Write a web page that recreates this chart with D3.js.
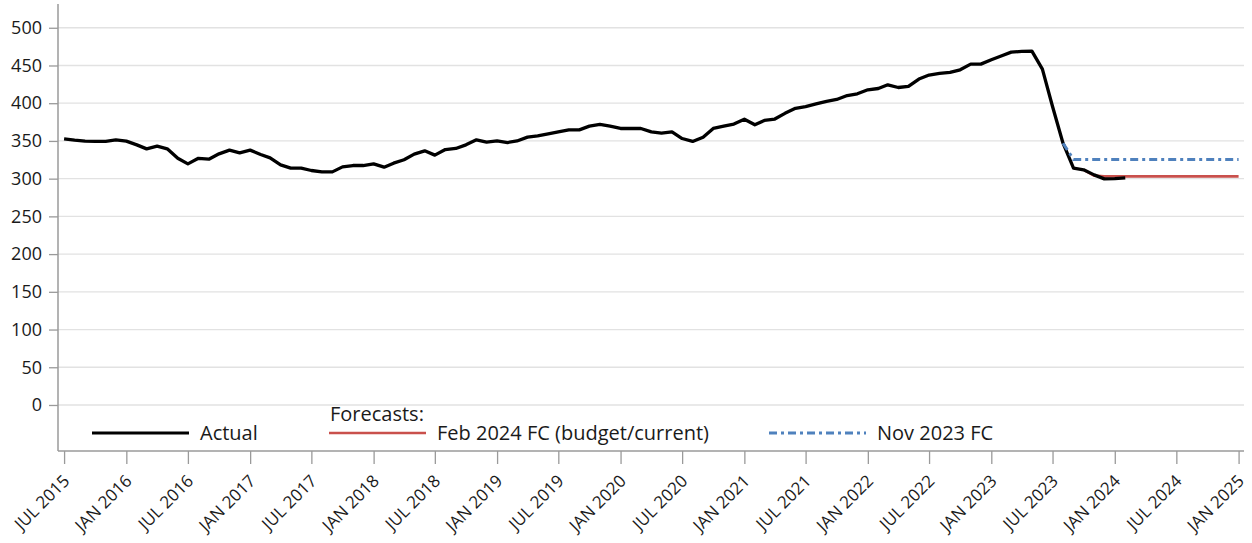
<!DOCTYPE html>
<html>
<head>
<meta charset="utf-8">
<script src="https://cdn.jsdelivr.net/npm/d3@7"></script>
<style>
  html, body { margin: 0; padding: 0; background: #fff; }
  svg text { font-family: "Open Sans", "Noto Sans", sans-serif; fill: #1a1a1a; }
</style>
</head>
<body>
<svg id="chart" width="1252" height="543"></svg>
<script>
// Monthly actuals, starting July 2015
const actualStart = "2015-07";
const actualValues = [
  352.8, 351, 349.7, 349.5, 349.5, 351.3, 349.7, 344.8, 339.5, 343, 339.5, 327,
  319.6, 327, 325.8, 332.9, 337.8, 334.2, 337.8, 332, 327.6, 318.3, 313.9, 314,
  310.8, 309, 309, 315.6, 317.4, 317.4, 319.6, 315.2, 320.5, 325, 332.5, 336.9,
  331.2, 338.6, 340, 344.8, 351.5, 348.4, 350, 347.9, 350, 355, 356.8, 359.4,
  362, 364.7, 364.7, 369.6, 371.8, 369.6, 366.5, 366.5, 366.5, 362, 360.3, 362,
  353.2, 349.3, 355, 366.5, 369.6, 372.3, 378.8, 371.4, 377.1, 379, 386.6, 393.2,
  395.4, 399, 402.5, 405, 410.2, 412.5, 417.8, 419.5, 424.4, 420.8, 422.2, 432,
  437.3, 439.4, 440.8, 444.3, 451.8, 451.8, 457.6, 462.9, 467.7, 468.6, 469, 445.2,
  395.6, 347, 313.9, 311.7, 305, 299.7, 300, 301
];

// Feb 2024 forecast (budget/current), starting October 2023
const feb24Start = "2023-10";
const feb24Values = [311.7, 304, 303, 303, 303, 303, 303, 303, 303, 303, 303, 303, 303, 303, 303, 303];

// Nov 2023 forecast, starting August 2023
const nov23Start = "2023-08";
const nov23Values = [347, 325.5, 325.5, 325.5, 325.5, 325.5, 325.5, 325.5, 325.5, 325.5,
                     325.5, 325.5, 325.5, 325.5, 325.5, 325.5, 325.5, 325.5];

const yTicks = [0, 50, 100, 150, 200, 250, 300, 350, 400, 450, 500];
const legendActual = "Actual";
const legendHeader = "Forecasts:";
const legendFeb = "Feb 2024 FC (budget/current)";
const legendNov = "Nov 2023 FC";

const parseMonth = d3.timeParse("%Y-%m");
function toSeries(start, values) {
  const s = parseMonth(start);
  return values.map((v, i) => ({ date: d3.timeMonth.offset(s, i), value: v }));
}
const actual = toSeries(actualStart, actualValues);
const feb24 = toSeries(feb24Start, feb24Values);
const nov23 = toSeries(nov23Start, nov23Values);

const svg = d3.select("#chart");
svg.append("rect").attr("width", 1252).attr("height", 543).attr("fill", "#fff");

const plot = { left: 58, right: 1244, top: 4, bottom: 451 };

const x = d3.scaleTime()
  .domain([new Date(2015, 5, 13), new Date(2025, 0, 17)])
  .range([plot.left, plot.right]);
const y = d3.scaleLinear()
  .domain([-61, 531.5])
  .range([plot.bottom, plot.top]);

// Horizontal gridlines
svg.append("g").selectAll("line").data(yTicks).join("line")
  .attr("x1", plot.left).attr("x2", plot.right)
  .attr("y1", d => y(d)).attr("y2", d => y(d))
  .attr("stroke", "#e2e2e2").attr("stroke-width", 1.3);

// Y axis
const yAxis = svg.append("g").attr("transform", `translate(${plot.left},0)`)
  .call(d3.axisLeft(y).tickValues(yTicks).tickSize(9).tickPadding(7).tickSizeOuter(0));
yAxis.select(".domain").remove();
yAxis.selectAll(".tick line").attr("stroke", "#9a9a9a").attr("stroke-width", 1.3);
yAxis.selectAll(".tick text").attr("font-size", 18).attr("font-family", null);

// X axis: a tick every January and July
const xTickDates = d3.timeMonth.every(6).range(new Date(2015, 6, 1), new Date(2025, 0, 2));
const fmt = d => (d.getMonth() === 0 ? "JAN " : "JUL ") + d.getFullYear();
const xAxis = svg.append("g").attr("transform", `translate(0,${plot.bottom})`)
  .call(d3.axisBottom(x).tickValues(xTickDates).tickSize(13).tickSizeOuter(0).tickFormat(fmt));
xAxis.select(".domain").remove();
xAxis.selectAll(".tick line").attr("stroke", "#9a9a9a").attr("stroke-width", 1.3);
xAxis.selectAll(".tick text")
  .attr("font-size", 17).attr("font-family", null)
  .attr("text-anchor", "end")
  .attr("x", 0).attr("y", 0).attr("dy", 0)
  .attr("transform", "translate(6,31) rotate(-45)");

// Axis frame lines
svg.append("line").attr("x1", plot.left).attr("x2", plot.left).attr("y1", plot.top).attr("y2", plot.bottom)
  .attr("stroke", "#9a9a9a").attr("stroke-width", 1.5);
svg.append("line").attr("x1", plot.left).attr("x2", plot.right).attr("y1", plot.bottom).attr("y2", plot.bottom)
  .attr("stroke", "#9a9a9a").attr("stroke-width", 1.5);

const line = d3.line().x(d => x(d.date)).y(d => y(d.value));

svg.append("path").datum(feb24).attr("d", line)
  .attr("fill", "none").attr("stroke", "#c9504c").attr("stroke-width", 2.6);
svg.append("path").datum(actual).attr("d", line)
  .attr("fill", "none").attr("stroke", "#000").attr("stroke-width", 3.3)
  .attr("stroke-linejoin", "round");
svg.append("path").datum(nov23).attr("d", line)
  .attr("fill", "none").attr("stroke", "#4f81bd").attr("stroke-width", 3)
  .attr("stroke-dasharray", "8,4,3,4");

// Legend
const lg = svg.append("g");
const legendItems = [
  { x1: 92, label: legendActual, color: "#000", width: 3, dash: null },
  { x1: 329, label: legendFeb, color: "#c9504c", width: 2.6, dash: null },
  { x1: 769, label: legendNov, color: "#4f81bd", width: 3, dash: "8,4,3,4" }
];
const ly = 433;
legendItems.forEach(it => {
  lg.append("line").attr("x1", it.x1).attr("x2", it.x1 + 97).attr("y1", ly).attr("y2", ly)
    .attr("stroke", it.color).attr("stroke-width", it.width)
    .attr("stroke-dasharray", it.dash);
  lg.append("text").attr("x", it.x1 + 108).attr("y", ly).attr("dy", "0.35em")
    .attr("font-size", 20).text(it.label);
});
lg.append("text").attr("x", 330).attr("y", 421).attr("font-size", 20).text(legendHeader);
</script>
</body>
</html>
